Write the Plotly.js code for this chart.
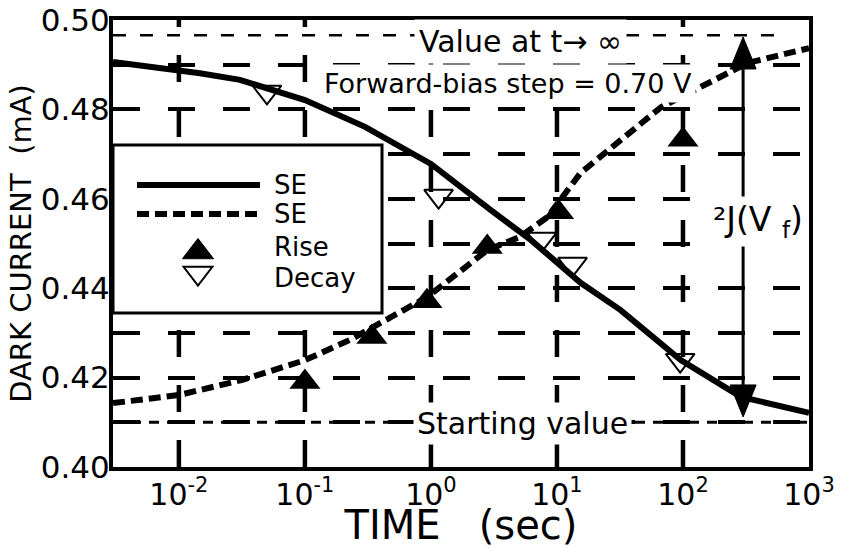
<!DOCTYPE html>
<html>
<head>
<meta charset="utf-8">
<script src="https://cdn.plot.ly/plotly-3.0.1.min.js"></script>
<style>
  html, body { margin: 0; padding: 0; background: #ffffff; }
  #chart { width: 844px; height: 548px; }
</style>
</head>
<body>
<div id="chart"></div>
<script>
// ---- Data (time in seconds, dark current in mA) ----
const solidTime    = [0.003, 0.0147, 0.0305, 0.1, 0.3, 1.0, 2.97, 6.2, 15.4, 32, 96, 288, 1000];
const solidCurrent = [0.4906, 0.4881, 0.4866, 0.4821, 0.4761, 0.4678, 0.4575, 0.4508, 0.4412, 0.4351, 0.4239, 0.4157, 0.4121];

const dashedTime    = [0.003, 0.01, 0.032, 0.1, 0.23, 0.93, 2.8, 5.1, 8.4, 15.4, 67, 138, 327, 1000];
const dashedCurrent = [0.4143, 0.4161, 0.4195, 0.4239, 0.4285, 0.4380, 0.4485, 0.4515, 0.4559, 0.4658, 0.4805, 0.4850, 0.4904, 0.4937];

const riseTime    = [0.1, 0.34, 0.93, 2.8, 10.3, 100];
const riseCurrent = [0.4190, 0.4291, 0.4371, 0.4492, 0.4570, 0.4732];

const decayTime    = [0.05, 1.15, 7.6, 13.3, 95];
const decayCurrent = [0.4839, 0.4606, 0.4510, 0.4454, 0.4239];

// reference levels and the step arrow
const valueAtInfinity = 0.4966;
const startingValue   = 0.41;
const arrowTime       = 300;
const arrowBottom     = 0.4112;
const arrowTop        = 0.4962;

// axes
const timeRange      = [0.003, 1000];
const currentRange   = [0.40, 0.50];
const tickTimes      = [0.01, 0.1, 1, 10, 100, 1000];
const tickTimeLabels = ['10<sup>-2</sup>', '10<sup>-1</sup>', '10<sup>0</sup>', '10<sup>1</sup>', '10<sup>2</sup>', '10<sup>3</sup>'];
const gridTimes      = [0.01, 0.1, 1, 10, 100];
const currentTicks   = [0.40, 0.42, 0.44, 0.46, 0.48, 0.50];
const currentLabels  = ['0.40', '0.42', '0.44', '0.46', '0.48', '0.50'];
const currentGridStep = 0.01;

// legend
const legendNames = ['SE', 'SE', 'Rise', 'Decay'];

const FONT = 'DejaVu Sans, Liberation Sans, Arial, sans-serif';
const INK = '#000000';
const PAPER = '#ffffff';

const traces = [
  { x: solidTime, y: solidCurrent, mode: 'lines', type: 'scatter', name: legendNames[0],
    line: { color: INK, width: 6 }, hoverinfo: 'skip' },
  { x: dashedTime, y: dashedCurrent, mode: 'lines', type: 'scatter', name: legendNames[1],
    line: { color: INK, width: 6, dash: '12px,6px' }, hoverinfo: 'skip' },
  { x: riseTime, y: riseCurrent, mode: 'markers', type: 'scatter', name: legendNames[2],
    marker: { symbol: 'triangle-up', size: 27, color: INK, line: { width: 0 } }, hoverinfo: 'skip' },
  { x: decayTime, y: decayCurrent, mode: 'markers', type: 'scatter', name: legendNames[3],
    marker: { symbol: 'triangle-down-open', size: 25, color: INK, line: { width: 2, color: INK } }, hoverinfo: 'skip' }
];

const shapes = [];
// vertical dashed grid, drawn from the bottom edge upward
gridTimes.forEach(t => shapes.push({
  type: 'line', xref: 'x', yref: 'y', x0: t, x1: t, y0: currentRange[0], y1: currentRange[1],
  line: { color: INK, width: 4.5, dash: '27px,28px' }, layer: 'below'
}));
// limiting values
shapes.push({ type: 'line', xref: 'paper', yref: 'y', x0: 0, x1: 0.965, y0: valueAtInfinity, y1: valueAtInfinity,
  line: { color: INK, width: 2.5, dash: '13px,14px' }, layer: 'below' });
shapes.push({ type: 'line', xref: 'paper', yref: 'y', x0: 0, x1: 1, y0: startingValue, y1: startingValue,
  line: { color: INK, width: 3, dash: '10px,8px' }, layer: 'below' });

// legend: frame, line samples and marker samples
shapes.push({ type: 'rect', xref: 'paper', yref: 'paper', x0: 0, x1: 0.3865, y0: 0.3445, y1: 0.7204,
  fillcolor: PAPER, line: { color: INK, width: 3 }, layer: 'above' });
shapes.push({ type: 'line', xref: 'paper', yref: 'paper', x0: 0.0345, x1: 0.2112, y0: 0.6309, y1: 0.6309,
  line: { color: INK, width: 6 }, layer: 'above' });
shapes.push({ type: 'line', xref: 'paper', yref: 'paper', x0: 0.0345, x1: 0.2112, y0: 0.566, y1: 0.566,
  line: { color: INK, width: 6, dash: '12px,6px' }, layer: 'above' });
shapes.push({ type: 'path', xref: 'paper', yref: 'paper', xsizemode: 'pixel', ysizemode: 'pixel',
  xanchor: 0.1221, yanchor: 0.481, path: 'M-15.6,-6.75 L15.6,-6.75 L0,13.5 Z',
  fillcolor: INK, line: { color: INK, width: 1 }, layer: 'above' });
shapes.push({ type: 'path', xref: 'paper', yref: 'paper', xsizemode: 'pixel', ysizemode: 'pixel',
  xanchor: 0.1221, yanchor: 0.434, path: 'M-14.4,6.25 L14.4,6.25 L0,-12.5 Z',
  fillcolor: PAPER, line: { color: INK, width: 2 }, layer: 'above' });

// step arrow between starting value and value at infinity
shapes.push({ type: 'line', xref: 'x', yref: 'y', x0: arrowTime, x1: arrowTime, y0: arrowBottom + 0.003, y1: arrowTop - 0.003,
  line: { color: INK, width: 3 }, layer: 'above' });
shapes.push({ type: 'path', xref: 'x', yref: 'y', xsizemode: 'pixel', ysizemode: 'pixel',
  xanchor: arrowTime, yanchor: arrowTop, path: 'M0,0 L-13,-32 L13,-32 Z',
  fillcolor: INK, line: { color: INK, width: 1 }, layer: 'above' });
shapes.push({ type: 'path', xref: 'x', yref: 'y', xsizemode: 'pixel', ysizemode: 'pixel',
  xanchor: arrowTime, yanchor: arrowBottom, path: 'M0,0 L-13,32 L13,32 Z',
  fillcolor: INK, line: { color: INK, width: 1 }, layer: 'above' });

const legendY = [0.6309, 0.566, 0.4922, 0.4228];
const annotations = legendNames.map((name, i) => ({
  xref: 'paper', yref: 'paper', x: 0.2284, y: legendY[i], xanchor: 'left', yanchor: 'middle',
  text: name, showarrow: false, font: { family: FONT, size: 26, color: INK }
}));
const note = (text, x, y, size, pad) => ({
  xref: 'paper', yref: 'paper', x: x, y: y, xanchor: 'center', yanchor: 'middle',
  text: text, showarrow: false, font: { family: FONT, size: size, color: INK },
  bgcolor: PAPER, borderpad: pad
});
annotations.push(
  note('Value at t\u2192 \u221e', 0.586, 0.953, 30, 4),
  note('Forward-bias step = 0.70 V', 0.5675, 0.857, 27, 3),
  note('\u00b2J(V\u00a0<sub>f</sub>)', 0.927, 0.55, 33, 3),
  note('Starting value', 0.589, 0.0984, 30, 3)
);

const layout = {
  width: 844, height: 548,
  margin: { l: 113, r: 35, t: 20, b: 81 },
  paper_bgcolor: PAPER, plot_bgcolor: PAPER,
  showlegend: false,
  font: { family: FONT, color: INK },
  xaxis: {
    type: 'log', range: [Math.log10(timeRange[0]), Math.log10(timeRange[1])],
    tickmode: 'array', tickvals: tickTimes, ticktext: tickTimeLabels,
    tickfont: { family: FONT, size: 30, color: INK }, ticklabelstandoff: -2,
    showgrid: false, zeroline: false, ticks: '',
    showline: true, mirror: true, linecolor: INK, linewidth: 4,
    title: { text: 'TIME\u00a0\u00a0\u00a0(sec)', font: { family: FONT, size: 40, color: INK }, standoff: 12 }
  },
  yaxis: {
    range: currentRange, tickmode: 'array', tickvals: currentTicks, ticktext: currentLabels,
    tickfont: { family: FONT, size: 31, color: INK }, ticklabelstandoff: -7,
    showgrid: true, gridcolor: INK, gridwidth: 4, griddash: '27px,28px',
    minor: { tick0: currentRange[0], dtick: currentGridStep, showgrid: true, gridcolor: INK, gridwidth: 4, griddash: '27px,28px', ticks: '' },
    zeroline: false, ticks: '',
    showline: true, mirror: true, linecolor: INK, linewidth: 4,
    title: { text: 'DARK CURRENT\u00a0\u00a0(mA)', font: { family: FONT, size: 29, color: INK }, standoff: 2 }
  },
  shapes: shapes,
  annotations: annotations
};

Plotly.newPlot('chart', traces, layout, { displayModeBar: false, staticPlot: true });
</script>
</body>
</html>
